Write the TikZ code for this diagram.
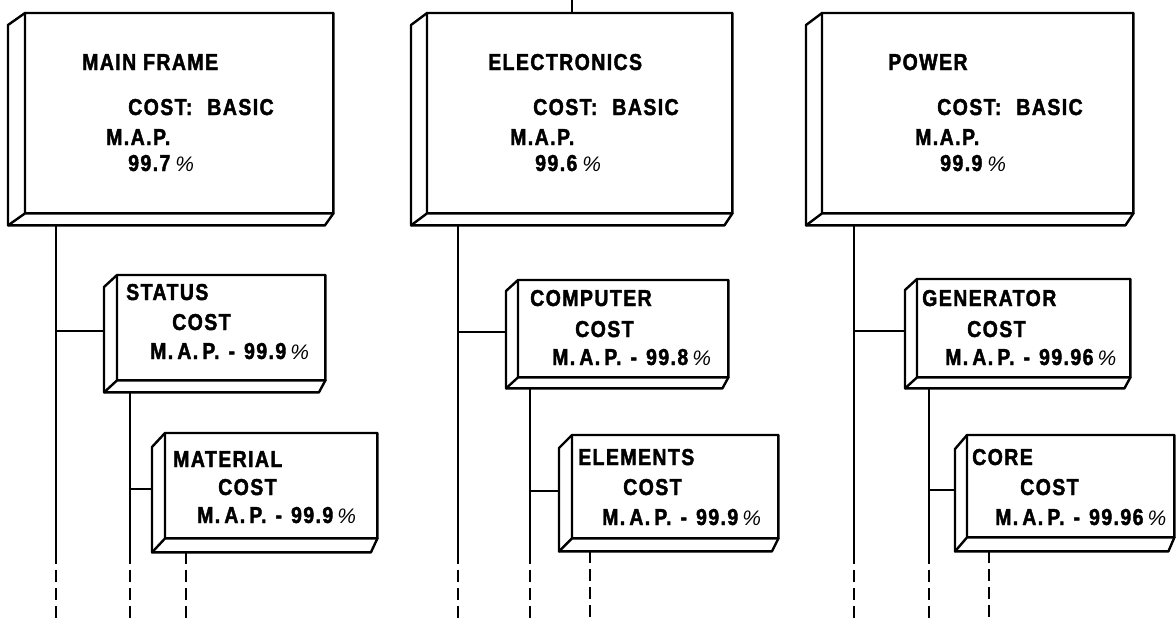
\documentclass[tikz,border=0pt]{standalone}
\usepackage{fontspec}
\newfontfamily\lblfont{Liberation Sans}[BoldFeatures={FakeStretch=0.85,LetterSpace=6,FakeBold=1.8}]
\newfontfamily\pctfont{Liberation Sans}
\newcommand{\pct}{{\pctfont\mdseries\itshape\fontsize{21}{21}\selectfont\%}}
\newcommand{\mapline}[1]{M.\kern4pt A.\kern4pt P.\kern9pt-\kern9pt #1\kern4pt\pct}
\newcommand{\solidbox}[3]{%
  \draw[boxline] (#1.north west) -- (#1.north east) -- (#1.south east)
    -- ([shift={(#2/2,#3)}]#1.south east) -- ([shift={(#2,#3)}]#1.south west)
    -- ([shift={(#2,#3)}]#1.north west) -- cycle;
  \draw[boxline] (#1.north west) -- (#1.south west) -- (#1.south east)
    (#1.south west) -- ([shift={(#2,#3)}]#1.south west);}
\tikzset{
  front/.style={rectangle, inner sep=0pt, anchor=north west, draw=none},
  boxline/.style={line width=2.4pt, line join=round, line cap=round},
  conn/.style={line width=2pt},
  dashline/.style={line width=2pt, dash pattern=on 12pt off 6pt},
  lbl/.style={anchor=base west, inner sep=0pt, font=\lblfont\bfseries\fontsize{23}{27}\selectfont}
}
\begin{document}
\begin{tikzpicture}[x=1pt,y=-1pt]
\useasboundingbox (0,0) rectangle (1176,619);
% big boxes
\node[front, minimum width=308pt, minimum height=200pt] (mf) at (25,13) {};
\node[front, minimum width=305pt, minimum height=200pt] (el) at (427,13) {};
\node[front, minimum width=311pt, minimum height=200pt] (pw) at (822,13) {};
\solidbox{mf}{-17}{12}
\solidbox{el}{-16}{12}
\solidbox{pw}{-16}{12}
% mid boxes
\node[front, minimum width=208pt, minimum height=105pt] (st) at (117,275) {};
\node[front, minimum width=210pt, minimum height=97pt] (cp) at (518,280) {};
\node[front, minimum width=213pt, minimum height=98pt] (gn) at (917,279) {};
\solidbox{st}{-13}{12}
\solidbox{cp}{-12}{11}
\solidbox{gn}{-12}{11}
% lower boxes
\node[front, minimum width=212pt, minimum height=105pt] (mt) at (165,433) {};
\node[front, minimum width=206pt, minimum height=103pt] (elm) at (572,435) {};
\node[front, minimum width=207pt, minimum height=102pt] (co) at (967,435) {};
\solidbox{mt}{-13}{14}
\solidbox{elm}{-13}{13}
\solidbox{co}{-12}{14}

% texts: big boxes
\node[lbl] (mf1) at (82,70) {MAIN FRAME};
\node[lbl] (mf2) at (128,115) {COST:\hspace{15pt}BASIC};
\node[lbl] (mf3) at (106,145) {M.A.P.};
\node[lbl] (mf4) at (128,171) {99.7\kern5pt\pct};
\node[lbl] (el1) at (488,70) {ELECTRONICS};
\node[lbl] (el2) at (533,115) {COST:\hspace{15pt}BASIC};
\node[lbl] (el3) at (510,145) {M.A.P.};
\node[lbl] (el4) at (535,171) {99.6\kern5pt\pct};
\node[lbl] (pw1) at (888,70) {POWER};
\node[lbl] (pw2) at (937,115) {COST:\hspace{15pt}BASIC};
\node[lbl] (pw3) at (915,145) {M.A.P.};
\node[lbl] (pw4) at (940,171) {99.9\kern5pt\pct};
% mid
\node[lbl] (st1) at (126,300) {STATUS};
\node[lbl] (st2) at (172,330) {COST};
\node[lbl] (st3) at (150,359) {\mapline{99.9}};
\node[lbl] (cp1) at (530,306) {COMPUTER};
\node[lbl] (cp2) at (575,337) {COST};
\node[lbl] (cp3) at (552,365) {\mapline{99.8}};
\node[lbl] (gn1) at (922,306) {GENERATOR};
\node[lbl] (gn2) at (967,337) {COST};
\node[lbl] (gn3) at (945,365) {\mapline{99.96}};
% lower
\node[lbl] (mt1) at (173,467) {MATERIAL};
\node[lbl] (mt2) at (218,495) {COST};
\node[lbl] (mt3) at (197,523) {\mapline{99.9}};
\node[lbl] (elm1) at (578,465) {ELEMENTS};
\node[lbl] (elm2) at (623,495) {COST};
\node[lbl] (elm3) at (602,525) {\mapline{99.9}};
\node[lbl] (co1) at (972,465) {CORE};
\node[lbl] (co2) at (1020,495) {COST};
\node[lbl] (co3) at (995,525) {\mapline{99.96}};

% top connector
\coordinate (topend) at (572,0);
\draw[conn] (topend) -- (topend |- el.north);

% column coordinates
\coordinate (a1) at (56,552);  \coordinate (b1) at (56,619);
\coordinate (a2) at (130,552); \coordinate (b2) at (130,619);
\coordinate (b3) at (186,619);
\coordinate (a4) at (458,552); \coordinate (b4) at (458,619);
\coordinate (a5) at (530,552); \coordinate (b5) at (530,619);
\coordinate (b6) at (590,619);
\coordinate (a7) at (854,552); \coordinate (b7) at (854,619);
\coordinate (a8) at (929,552); \coordinate (b8) at (929,619);
\coordinate (b9) at (989,619);

% column 1
\draw[conn] ([yshift=-12pt]a1 |- mf.south) -- (a1);
\draw[dashline] (a1) -- (b1);
\draw[conn] ([shift={(-13,3)}]st.west) -- ([yshift=-3pt]a1 |- st.west);
\draw[conn] ([yshift=-12pt]a2 |- st.south) -- (a2);
\draw[dashline] (a2) -- (b2);
\draw[conn] ([shift={(-13,3)}]mt.west) -- ([yshift=-3pt]a2 |- mt.west);
\draw[dashline] ([yshift=-14pt]b3 |- mt.south) -- (b3);
% column 2
\draw[conn] ([yshift=-12pt]a4 |- el.south) -- (a4);
\draw[dashline] (a4) -- (b4);
\draw[conn] ([shift={(-12,3)}]cp.west) -- ([yshift=-3pt]a4 |- cp.west);
\draw[conn] ([yshift=-11pt]a5 |- cp.south) -- (a5);
\draw[dashline] (a5) -- (b5);
\draw[conn] ([shift={(-13,4)}]elm.west) -- ([yshift=-4pt]a5 |- elm.west);
\draw[dashline] ([yshift=-13pt]b6 |- elm.south) -- (b6);
% column 3
\draw[conn] ([yshift=-12pt]a7 |- pw.south) -- (a7);
\draw[dashline] (a7) -- (b7);
\draw[conn] ([shift={(-12,3)}]gn.west) -- ([yshift=-3pt]a7 |- gn.west);
\draw[conn] ([yshift=-11pt]a8 |- gn.south) -- (a8);
\draw[dashline] (a8) -- (b8);
\draw[conn] ([shift={(-12,4)}]co.west) -- ([yshift=-4pt]a8 |- co.west);
\draw[dashline] ([yshift=-14pt]b9 |- co.south) -- (b9);
\end{tikzpicture}
\end{document}
